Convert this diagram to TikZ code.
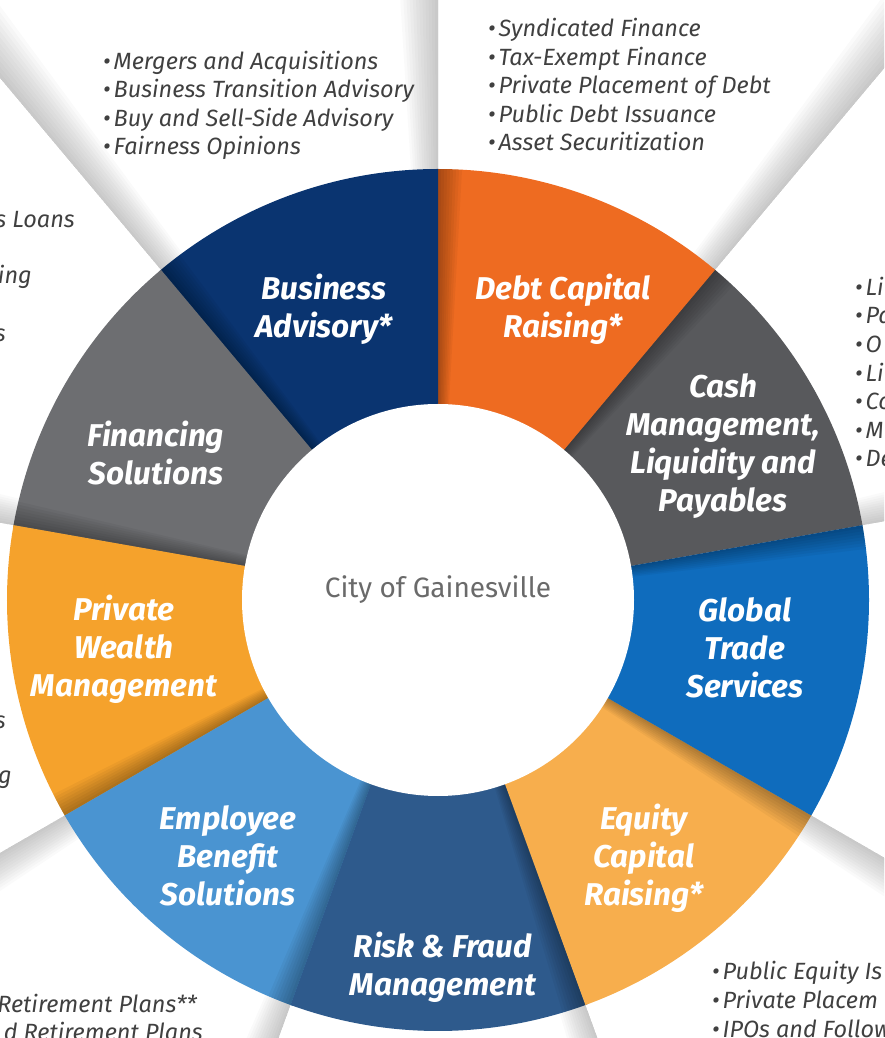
\documentclass[tikz,border=0pt]{standalone}
\usepackage{fontspec}
\setmainfont{Fira Sans}

\definecolor{advisoryblue}{HTML}{0A3470}
\definecolor{debtorange}{HTML}{EE6B21}
\definecolor{cashgray}{HTML}{58595C}
\definecolor{tradeblue}{HTML}{0F6CBD}
\definecolor{equityorange}{HTML}{F7AE4D}
\definecolor{riskblue}{HTML}{2E5A8C}
\definecolor{benefitblue}{HTML}{4A94D1}
\definecolor{wealthorange}{HTML}{F5A22C}
\definecolor{financegray}{HTML}{6D6E71}
\definecolor{listgray}{HTML}{404040}
\definecolor{citygray}{HTML}{6A6A6A}

\newcommand\Rout{431}
\newcommand\Rin{196}
\newcommand\srvitem[1]{\textbullet\kern3pt#1}

\tikzset{
  seglabel/.style={text=white, align=center, inner sep=0pt,
    font=\fontsize{31.5}{38}\selectfont\bfseries\itshape},
  srvlist/.style={text=listgray, align=left, inner sep=0pt, anchor=base west,
    font=\fontsize{23.5}{28.6}\selectfont\itshape},
  cutfrag/.style={text=listgray, inner sep=0pt, anchor=base east,
    font=\fontsize{23.5}{28.6}\selectfont\itshape},
  hub/.style={circle, fill=white, minimum size=392pt, inner sep=0pt},
  citytext/.style={text=citygray, font=\fontsize{28}{32}\selectfont},
}

\begin{document}
\begin{tikzpicture}[x=1pt,y=1pt]
  \useasboundingbox (-438,-438) rectangle (446,600);
  \clip (-438,-438) rectangle (446,600);

  % folds behind the wheel
  \foreach \a/\s in {90/1,130/-1,170/-1,210/1,250/-1,290/-1,330/-1,10/1,50/1}
    \foreach \k in {1,...,12}
      \fill[black,opacity=.018] (0,0) -- (\a:900) -- (\a+\s*\k*.3:900) -- cycle;

  % wheel
  \foreach \a/\c/\o in {10/cashgray/.3,50/debtorange/.3,90/advisoryblue/.3,
      130/financegray/.3,170/wealthorange/.3,210/benefitblue/.3,250/riskblue/.3,
      290/equityorange/.3,330/tradeblue/0}{
    \fill[\c] (0,0) -- (\a:\Rout) arc[start angle=\a, end angle=\a+40+\o, radius=\Rout] -- cycle;
    \foreach \k in {1,...,8}
      \fill[black,opacity=.04] (0,0) -- (\a+40:\Rout)
        arc[start angle=\a+40, end angle=\a+40-\k*.4, radius=\Rout] -- cycle;
  }
  \node[hub] (hub) at (0,0) {};
  \node[citytext] (city) at (0,10) {City of Gainesville};

  \node[seglabel] (advisory)  at (-114,291) {Business\\Advisory*};
  \node[seglabel] (debt)      at (125,291)  {Debt Capital\\Raising*};
  \node[seglabel] (cash)      at (285,154)  {Cash\\Management,\\Liquidity and\\Payables};
  \node[seglabel] (trade)     at (307,-48)  {Global\\Trade\\Services};
  \node[seglabel] (equity)    at (206,-258) {Equity\\Capital\\Raising*};
  \node[seglabel] (risk)      at (5,-367)   {Risk \& Fraud\\Management};
  \node[seglabel] (benefit)   at (-210,-256) {Employee\\Benefit\\Solutions};
  \node[seglabel] (wealth)    at (-314,-49) {Private\\Wealth\\Management};
  \node[seglabel] (financing) at (-282,147) {Financing\\Solutions};

  % service lists (anchored on the last line)
  \node[srvlist] (advlist) at (-335,445) {\srvitem{Mergers and Acquisitions}\\
    \srvitem{Business Transition Advisory}\\\srvitem{Buy and Sell-Side Advisory}\\
    \srvitem{Fairness Opinions}};
  \node[srvlist] (debtlist) at (50,449) {\srvitem{Syndicated Finance}\\
    \srvitem{Tax-Exempt Finance}\\\srvitem{Private Placement of Debt}\\
    \srvitem{Public Debt Issuance}\\\srvitem{Asset Securitization}};
  \node[srvlist] (cashlist) at (417,133) {\srvitem{Li}\\\srvitem{Pa}\\\srvitem{O}\\
    \srvitem{Li}\\\srvitem{Co}\\\srvitem{M}\\\srvitem{De}};
  \node[srvlist] (equitylist) at (274,-437) {\srvitem{Public Equity Is}\\
    \srvitem{Private Placem}\\\srvitem{IPOs and Follow}};

  \node[cutfrag] (finfrag1) at (-363,372) {s Loans};
  \node[cutfrag] (finfrag2) at (-406,316) {ing};
  \node[cutfrag] (finfrag3) at (-432,258) {s};
  \node[cutfrag] (wealthfrag1) at (-432,-128) {s};
  \node[cutfrag] (wealthfrag2) at (-426,-183) {g};
  \node[cutfrag] (benefitfrag1) at (-241,-412) {Retirement Plans**};
  \node[cutfrag] (benefitfrag2) at (-235,-440) {d Retirement Plans};
\end{tikzpicture}
\end{document}
